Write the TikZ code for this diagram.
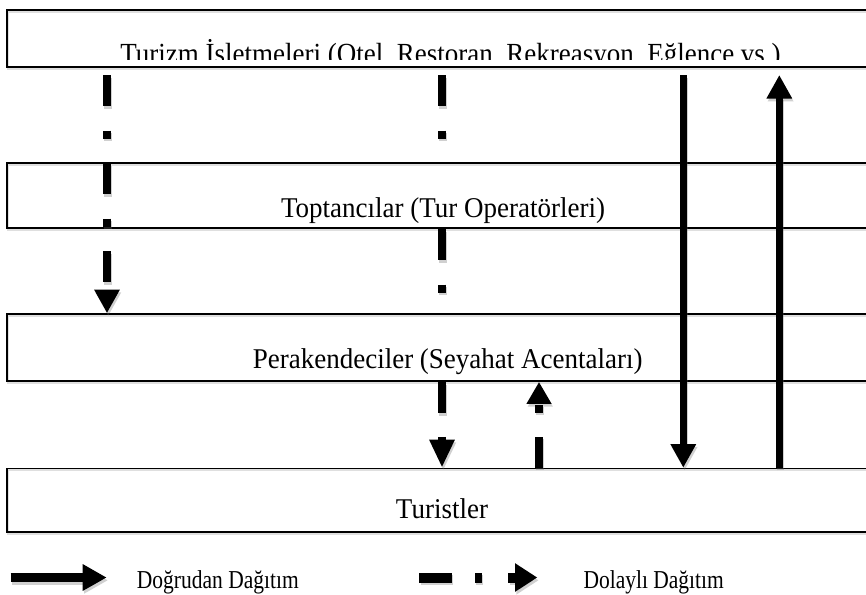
\documentclass[tikz,border=0pt]{standalone}
\usepackage{fontspec}
\setmainfont{Liberation Serif}
\usetikzlibrary{arrows.meta}
% all flow arrows, drawn once as a soft shadow and once in black
\newcommand\drawflows{%
  % indirect flows
  \draw[flow, dashdot, headdown] (c1) -- (b3.north -| c1);
  \draw[flow, dashdot] (c2) -- (b2.north -| c2);
  \draw[flow, dashdot] (b2.south -| c2) -- (b3.north -| c2);
  \draw[flow, dash pattern=on 31pt off 24pt on 8pt off 24pt,
        -{Triangle[length=28pt,width=23.5pt]}] (b3.south -| c2) -- (b4.north -| c2);
  \draw[flow, dash pattern=on 31pt off 24pt on 8pt off 24pt, headshort]
        (b4.north -| c3) -- (b3.south -| c3);
  % direct flows
  \draw[flow, line width=7.5pt, headdown] (c4) -- (b4.north -| c4);
  \draw[flow, line width=7.5pt, headdown] (b4.north -| c5) -- (c5);
  % legend symbols
  \draw[flow, line width=9pt, -{Triangle[length=24pt,width=25pt]}] (ls) -- (le);
  \draw[flow, line width=10pt, dash pattern=on 32.4pt off 23.3pt on 6.7pt off 26.6pt,
        -{Triangle[length=22.3pt,width=27pt]}] (ms) -- (me);
}
\begin{document}
\begin{tikzpicture}[x=1pt,y=-1pt,
  box/.style={draw=black, line width=1.7pt, rectangle, inner sep=0pt,
    minimum width=893pt,
    preaction={draw=black!50, opacity=0.25,
      transform canvas={xshift=0.8pt,yshift=-1.8pt}}},
  lbl/.style={inner sep=0pt, anchor=base, font=\fontsize{27}{30}\selectfont},
  leg/.style={inner sep=0pt, anchor=base west, font=\fontsize{21.5}{24}\selectfont},
  flow/.style={line width=8pt},
  dashdot/.style={dash pattern=on 31pt off 24.5pt on 8pt off 24.5pt},
  headdown/.style={-{Triangle[length=23.5pt,width=24pt]}},
  headshort/.style={-{Triangle[length=22pt,width=23.5pt]}},
]
\clip (0,0) rectangle (866,594);
\fill[white] (0,0) rectangle (866,594);

% the four levels of the distribution channel
\node[box, minimum height=57pt]   (top) at (453.5,38.5)  {};
\node[box, minimum height=65pt]   (b2)  at (453.5,195.8) {};
\node[box, minimum height=67pt]   (b3)  at (453.5,347.5) {};
\node[box, minimum height=63.5pt] (b4)  at (453.5,500.25) {};

% the first label runs past the lower edge of its box and is cut off there
\begin{scope}
  \clip (0,10) rectangle (866,59.6);
  \node[lbl] (t1) at (450.5,63.6)
    {\scalebox{1}[1.08]{Turizm İşletmeleri (Otel, Restoran, Rekreasyon, Eğlence vs.)}};
\end{scope}
\node[lbl] (t2) at (443,217)   {\scalebox{1}[1.06]{Toptancılar (Tur Operatörleri)}};
\node[lbl] (t3) at (447.7,368) {\scalebox{1}[1.06]{Perakendeciler (Seyahat Acentaları)}};
\node[lbl] (t4) at (442,518)   {\scalebox{1}[1.06]{Turistler}};

% column start points below the top box
\coordinate (c1) at (107,75);
\coordinate (c2) at (442,75);
\coordinate (c3) at (539,75);
\coordinate (c4) at (683.3,75);
\coordinate (c5) at (779.3,75);
% legend symbol end points
\coordinate (ls) at (10.7,577.5);
\coordinate (le) at (106.7,577.5);
\coordinate (ms) at (419.3,577.5);
\coordinate (me) at (537.3,577.5);

\begin{scope}[draw=black!60, opacity=0.3,
    transform canvas={xshift=1.3pt,yshift=-2.8pt}]
  \drawflows
\end{scope}
\drawflows

% legend texts
\node[leg] (lt1) at (136.7,588) {\scalebox{1}[1.2]{Doğrudan Dağıtım}};
\node[leg] (lt2) at (583.3,588) {\scalebox{1}[1.2]{Dolaylı Dağıtım}};
\end{tikzpicture}
\end{document}
